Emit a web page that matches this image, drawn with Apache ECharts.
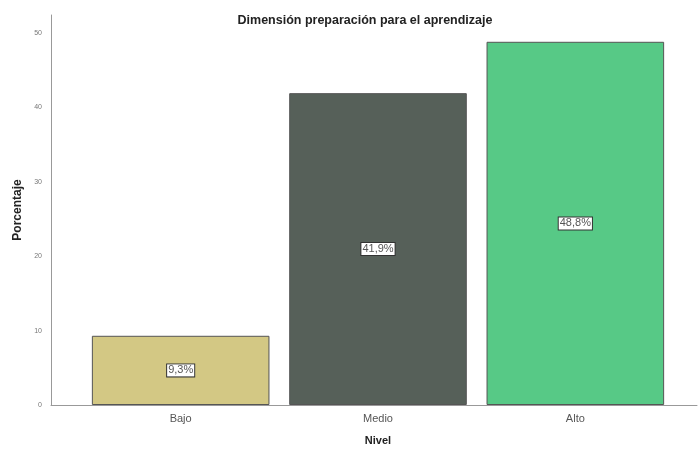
<!DOCTYPE html>
<html lang="es">
<head>
  <meta charset="UTF-8">
  <title>Dimensión preparación para el aprendizaje</title>
  <script src="https://cdn.jsdelivr.net/npm/echarts@6/dist/echarts.min.js"></script>
  <style>
    body { margin: 0; padding: 0; background: #ffffff; }
  </style>
</head>
<body>
  <div id="chart" style="width: 699px; height: 453px;"></div>
  <script>
    // datos
    var niveles = ['Bajo', 'Medio', 'Alto'];
    var porcentajes = [9.3, 41.9, 48.8];
    var colores = ['#d3c884', '#566059', '#57c986'];
    var yTicks = [0, 10, 20, 30, 40, 50];

    var yMax = 52.4;
    var myChart = echarts.init(document.getElementById('chart'));

    var option = {
      animation: false,
      title: {
        text: 'Dimensión preparación para el aprendizaje',
        left: 360,
        top: 9,
        textAlign: 'center',
        textStyle: { fontFamily: 'Arial, Liberation Sans', fontSize: 12.5, fontWeight: 'bold', color: '#222' }
      },
      grid: [
        // ejes completos
        { left: 51, right: 2, top: 15, bottom: 48 },
        // barras
        { left: 82, right: 25, top: 15, bottom: 48 }
      ],
      xAxis: [
        {
          gridIndex: 0, type: 'value', min: 0, max: 1,
          axisLine: { show: true, lineStyle: { color: '#999', width: 1 } },
          axisTick: { show: false }, axisLabel: { show: false }, splitLine: { show: false }
        },
        {
          gridIndex: 1, type: 'category', data: niveles,
          name: 'Nivel', nameLocation: 'middle', nameGap: 30,
          nameTextStyle: { fontFamily: 'Arial, Liberation Sans', fontSize: 11, fontWeight: 'bold', color: '#222' },
          axisLine: { show: false }, axisTick: { show: false },
          axisLabel: { fontFamily: 'Arial, Liberation Sans', fontSize: 11, color: '#555', margin: 8 }
        }
      ],
      yAxis: [
        {
          gridIndex: 0, type: 'value', min: 0, max: yMax, interval: 10,
          name: 'Porcentaje', nameLocation: 'middle', nameGap: 27, nameRotate: 90,
          nameTextStyle: { fontFamily: 'Arial, Liberation Sans', fontSize: 12, fontWeight: 'bold', color: '#222' },
          axisLine: { show: true, lineStyle: { color: '#999', width: 1 } },
          axisTick: { show: false },
          axisLabel: {
            fontFamily: 'Arial, Liberation Sans', fontSize: 7, color: '#777', margin: 9,
            showMaxLabel: false,
            formatter: function (v) { return yTicks.indexOf(v) >= 0 ? v : ''; }
          },
          splitLine: { show: false }
        },
        {
          gridIndex: 1, type: 'value', min: 0, max: yMax, show: false
        }
      ],
      series: [
        {
          type: 'bar',
          xAxisIndex: 1,
          yAxisIndex: 1,
          barCategoryGap: '10%',
          data: porcentajes.map(function (v, i) {
            return { value: v, itemStyle: { color: colores[i] } };
          }),
          itemStyle: { borderColor: '#555', borderWidth: 1 },
          label: {
            show: true,
            position: 'inside',
            formatter: function (p) { return p.value.toFixed(1).replace('.', ',') + '%'; },
            fontFamily: 'Arial, Liberation Sans',
            fontSize: 11,
            color: '#555',
            backgroundColor: '#ffffff',
            borderColor: '#333',
            borderWidth: 1,
            padding: [1, 1, 0, 1]
          }
        }
      ]
    };
    myChart.setOption(option);
  </script>
</body>
</html>
